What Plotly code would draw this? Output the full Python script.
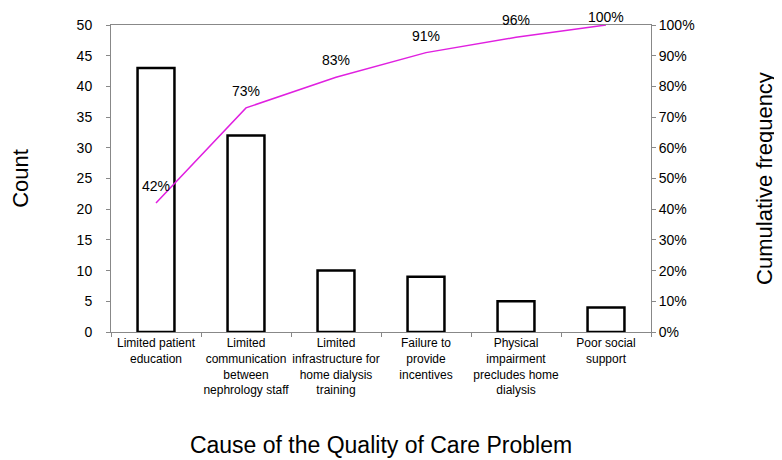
import plotly.graph_objects as go

categories = [
    "Limited patient<br>education",
    "Limited<br>communication<br>between<br>nephrology staff",
    "Limited<br>infrastructure for<br>home dialysis<br>training",
    "Failure to<br>provide<br>incentives",
    "Physical<br>impairment<br>precludes home<br>dialysis",
    "Poor social<br>support",
]
counts = [43, 32, 10, 9, 5, 4]
cumulative = [0.42, 0.73, 0.83, 0.91, 0.96, 1.00]
cum_labels = ["42%", "73%", "83%", "91%", "96%", "100%"]

FONT = "Liberation Sans, Arial, sans-serif"
W, H = 782, 460
ML, MR, MT, MB = 103, 139, 17, 136
PH = H - MT - MB

fig = go.Figure()
fig.add_trace(go.Bar(
    x=categories, y=counts,
    marker=dict(color="white", line=dict(color="black", width=2.5)),
    width=0.41, showlegend=False, hoverinfo="skip",
))
fig.add_trace(go.Scatter(
    x=categories, y=cumulative, yaxis="y2",
    mode="lines",
    line=dict(color="#E020E0", width=1.5), showlegend=False, hoverinfo="skip",
    cliponaxis=False,
))

annotations = []
for c, v, t in zip(categories, cumulative, cum_labels):
    py = MT + (1 - v) * PH
    shift = min(17, py - 9)
    annotations.append(dict(
        x=c, y=v, xref="x", yref="y2", text=t, showarrow=False,
        yshift=shift, font=dict(size=14, color="black", family=FONT),
    ))

fig.update_layout(
    width=W, height=H,
    margin=dict(l=ML, r=MR, t=MT, b=MB, autoexpand=False),
    paper_bgcolor="white", plot_bgcolor="white",
    font=dict(family=FONT, color="black"),
    annotations=annotations,
    xaxis=dict(
        type="category", showline=True, linecolor="#888888", linewidth=1,
        mirror=True, ticks="outside", tickson="boundaries", ticklen=4, tickcolor="#888888",
        tickfont=dict(size=12), tickangle=0, showgrid=False,
        title=dict(text="Cause of the Quality of Care Problem", font=dict(size=23), standoff=40),
    ),
    yaxis=dict(
        range=[0, 50], dtick=5, showline=True, linecolor="#888888", linewidth=1,
        ticks="outside", ticklen=4, tickcolor="#888888", showgrid=False, zeroline=False,
        tickfont=dict(size=14), ticklabelstandoff=11,
        title=dict(text="Count", font=dict(size=22), standoff=64),
    ),
    yaxis2=dict(
        range=[0, 1], dtick=0.1, tickformat=".0%", overlaying="y", side="right",
        showline=True, linecolor="#888888", linewidth=1,
        ticks="outside", ticklen=4, tickcolor="#888888", showgrid=False, zeroline=False,
        tickfont=dict(size=14), ticklabelstandoff=0,
        title=dict(text="Cumulative frequency", font=dict(size=22), standoff=62),
    ),
)

fig.write_html("out.html")
